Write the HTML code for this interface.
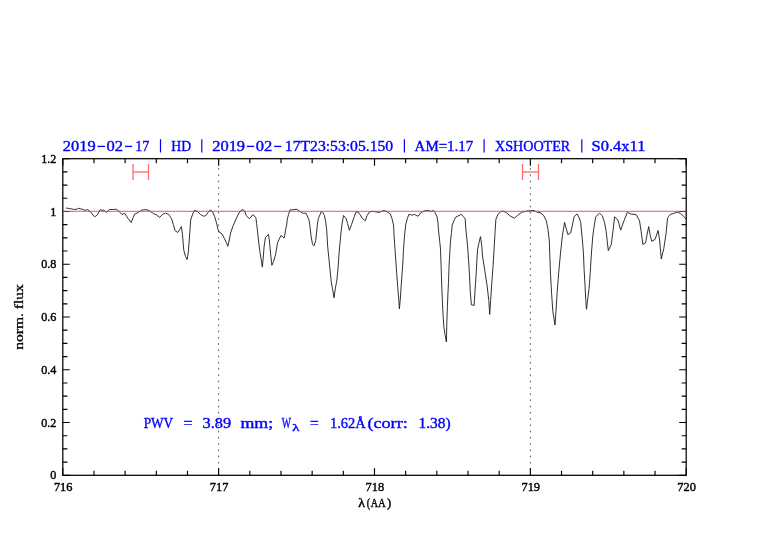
<!DOCTYPE html><html><head><meta charset="utf-8"><style>html,body{margin:0;padding:0;background:#fff;}svg{display:block;}</style></head><body>
<svg width="782" height="542" viewBox="0 0 782 542" style="will-change:transform">
<rect width="782" height="542" fill="#fff"/>
<line x1="218.65" y1="168.2" x2="218.65" y2="475" stroke="#555" stroke-width="1" stroke-dasharray="1.6 4.65"/>
<line x1="530.35" y1="168.2" x2="530.35" y2="475" stroke="#555" stroke-width="1" stroke-dasharray="1.6 4.65"/>
<path d="M66.1 208.0 L68.3 208.4 L70.9 208.8 L73.4 209.3 L76.0 209.5 L78.5 208.3 L81.1 209.0 L83.3 209.6 L85.3 210.4 L87.5 209.5 L90.1 211.5 L92.0 213.7 L94.2 216.5 L95.5 216.3 L97.1 215.2 L98.4 213.1 L100.0 209.9 L101.6 210.1 L104.1 210.4 L106.4 212.3 L109.5 209.5 L113.3 209.5 L116.5 209.3 L119.1 211.5 L121.9 214.4 L124.8 213.3 L128.0 218.5 L131.2 222.5 L133.1 217.6 L134.7 214.1 L137.0 213.1 L139.5 211.5 L141.4 210.2 L145.3 209.6 L148.5 210.2 L151.0 211.8 L153.6 213.7 L156.5 214.9 L159.7 217.4 L162.3 214.5 L165.5 213.2 L168.5 214.3 L171.6 218.8 L173.3 224.4 L175.0 230.5 L177.7 232.5 L179.4 229.9 L181.4 226.6 L182.5 234.9 L183.8 250.4 L185.5 256.5 L187.1 259.5 L188.3 252.6 L189.4 238.2 L190.7 220.0 L192.7 213.9 L194.3 210.5 L197.1 211.1 L200.4 214.4 L203.5 216.2 L205.7 215.8 L208.0 212.5 L209.8 210.3 L212.4 211.4 L214.6 216.5 L216.4 222.4 L217.9 229.1 L219.0 231.9 L222.0 233.9 L224.5 238.7 L226.3 242.5 L227.8 246.3 L229.3 240.0 L230.6 233.0 L232.7 226.9 L234.9 221.7 L237.5 215.8 L240.2 211.0 L243.0 209.5 L244.8 211.6 L246.3 215.7 L249.6 218.7 L252.9 214.6 L255.9 217.5 L256.6 223.5 L257.3 229.4 L258.1 236.7 L259.0 245.0 L260.2 253.5 L261.2 259.5 L262.4 267.1 L263.2 258.0 L264.1 246.7 L265.4 237.6 L268.4 234.4 L269.3 239.7 L270.6 253.6 L271.9 265.3 L273.6 261.4 L275.8 253.6 L277.5 242.8 L279.3 238.9 L281.0 235.4 L284.1 238.0 L284.9 234.1 L285.8 228.5 L286.7 225.0 L287.3 219.2 L288.5 214.5 L290.0 210.0 L292.8 209.7 L295.0 209.4 L297.3 209.4 L299.2 211.0 L301.7 212.6 L303.3 213.4 L305.9 213.1 L307.2 215.8 L309.1 220.3 L310.1 227.3 L311.0 235.7 L312.5 244.3 L314.1 245.9 L315.7 240.4 L316.5 233.0 L317.4 224.1 L318.4 218.3 L320.0 214.8 L321.4 211.2 L322.8 212.6 L324.4 215.5 L325.7 221.5 L326.7 229.9 L327.7 246.9 L328.9 258.3 L330.0 269.7 L331.2 281.2 L332.6 289.2 L334.0 297.8 L335.4 288.1 L336.9 280.0 L338.0 268.6 L338.8 257.2 L339.7 245.7 L340.5 238.5 L341.0 232.5 L342.1 223.6 L343.5 215.5 L346.1 218.5 L347.6 223.6 L349.4 230.3 L351.6 224.4 L353.9 217.7 L356.1 211.8 L358.3 212.2 L360.1 214.8 L362.3 218.5 L365.3 220.7 L367.1 215.5 L369.3 212.2 L371.9 211.3 L375.6 211.8 L379.3 212.4 L381.5 211.3 L384.1 210.5 L386.9 211.6 L390.2 213.9 L391.9 218.3 L393.5 224.9 L394.1 236.0 L395.0 249.3 L396.1 265.0 L396.6 272.4 L397.7 286.8 L398.8 300.1 L399.4 308.9 L400.3 299.0 L401.1 286.8 L402.2 272.4 L403.0 260.0 L403.5 249.3 L404.6 234.9 L405.7 224.9 L407.4 218.3 L409.0 214.1 L411.2 215.0 L412.1 215.2 L414.6 214.4 L418.0 216.3 L420.5 213.0 L422.7 211.7 L426.4 210.4 L428.6 210.5 L430.9 211.5 L433.4 210.4 L435.3 213.0 L437.1 217.0 L437.9 222.2 L438.6 231.0 L439.7 241.3 L440.5 249.1 L441.1 265.7 L441.6 282.3 L442.4 301.1 L443.1 315.5 L443.8 326.5 L445.0 334.3 L446.4 342.0 L446.6 334.3 L446.8 323.2 L447.4 306.6 L448.0 292.0 L448.5 282.3 L449.0 266.8 L449.9 251.3 L450.4 242.1 L451.5 232.5 L452.2 225.1 L454.4 219.7 L456.1 216.8 L459.1 215.5 L461.3 214.4 L463.5 216.6 L465.2 218.8 L465.7 227.1 L466.8 238.2 L468.0 251.5 L469.4 273.0 L470.2 291.0 L471.4 304.8 L474.1 305.4 L475.0 291.0 L476.2 273.0 L477.0 258.0 L477.6 249.3 L479.0 242.7 L480.5 236.6 L481.8 246.0 L482.5 256.0 L484.6 269.4 L487.0 285.0 L488.8 300.6 L489.7 314.4 L490.6 300.6 L491.8 282.6 L493.0 267.0 L494.0 250.0 L494.6 240.0 L495.1 231.4 L495.9 219.2 L498.1 214.2 L500.7 211.6 L503.2 211.1 L506.3 212.6 L510.3 216.2 L514.4 218.2 L517.9 215.2 L521.5 212.3 L526.5 211.1 L530.6 210.6 L534.1 210.6 L537.0 212.0 L540.2 212.7 L543.5 215.2 L546.3 220.7 L548.0 229.6 L549.4 241.8 L549.8 255.0 L550.5 274.2 L551.6 293.4 L552.8 311.1 L555.0 325.1 L556.0 311.1 L557.2 291.9 L558.7 272.7 L559.6 263.0 L560.5 253.0 L561.2 247.0 L562.3 236.2 L564.6 222.4 L566.2 228.5 L567.9 234.6 L570.7 232.9 L572.4 225.1 L574.1 216.8 L576.9 213.9 L579.1 217.4 L580.7 222.4 L581.8 234.0 L583.0 247.3 L583.5 255.0 L584.1 269.4 L585.0 284.9 L585.7 299.3 L586.5 309.3 L587.4 301.5 L589.1 288.2 L590.2 273.8 L590.8 263.0 L591.5 252.0 L592.9 235.1 L594.0 227.4 L595.7 216.8 L599.6 213.2 L602.3 215.7 L604.5 222.4 L606.2 231.5 L607.3 241.8 L608.3 250.6 L611.3 244.5 L613.0 230.7 L614.6 216.8 L618.0 220.2 L620.7 230.1 L624.0 220.7 L627.4 212.4 L631.2 214.1 L636.2 214.6 L639.5 220.7 L641.2 231.8 L642.9 244.5 L645.6 242.9 L646.9 235.3 L648.7 226.6 L650.1 234.7 L651.7 241.3 L655.0 239.5 L658.1 230.5 L659.6 240.0 L661.3 259.0 L663.8 248.5 L666.0 234.0 L667.5 218.5 L668.5 216.5 L670.6 214.1 L673.6 213.5 L677.2 212.1 L680.5 213.5 L683.5 216.2 L686.3 219.3" fill="none" stroke="#1a1a1a" stroke-width="0.9" stroke-linejoin="round"/>
<g stroke="#ff6a6a" stroke-width="1.3" fill="none"><line x1="133.0" y1="164" x2="133.0" y2="180"/><line x1="148.5" y1="164" x2="148.5" y2="180"/><line x1="133.0" y1="172" x2="148.5" y2="172"/></g>
<g stroke="#ff6a6a" stroke-width="1.3" fill="none"><line x1="522.5" y1="164" x2="522.5" y2="180"/><line x1="538.5" y1="164" x2="538.5" y2="180"/><line x1="522.5" y1="172" x2="538.5" y2="172"/></g>
<path d="M62.80 475.30V468.30M62.80 158.70V165.70M93.97 475.30V470.70M93.97 158.70V163.30M125.14 475.30V470.70M125.14 158.70V163.30M156.31 475.30V470.70M156.31 158.70V163.30M187.48 475.30V470.70M187.48 158.70V163.30M218.65 475.30V468.30M218.65 158.70V165.70M249.82 475.30V470.70M249.82 158.70V163.30M280.99 475.30V470.70M280.99 158.70V163.30M312.16 475.30V470.70M312.16 158.70V163.30M343.33 475.30V470.70M343.33 158.70V163.30M374.50 475.30V468.30M374.50 158.70V165.70M405.67 475.30V470.70M405.67 158.70V163.30M436.84 475.30V470.70M436.84 158.70V163.30M468.01 475.30V470.70M468.01 158.70V163.30M499.18 475.30V470.70M499.18 158.70V163.30M530.35 475.30V468.30M530.35 158.70V165.70M561.52 475.30V470.70M561.52 158.70V163.30M592.69 475.30V470.70M592.69 158.70V163.30M623.86 475.30V470.70M623.86 158.70V163.30M655.03 475.30V470.70M655.03 158.70V163.30M686.20 475.30V468.30M686.20 158.70V165.70M62.80 475.30H69.80M686.20 475.30H679.20M62.80 462.11H67.40M686.20 462.11H681.60M62.80 448.92H67.40M686.20 448.92H681.60M62.80 435.73H67.40M686.20 435.73H681.60M62.80 422.53H69.80M686.20 422.53H679.20M62.80 409.34H67.40M686.20 409.34H681.60M62.80 396.15H67.40M686.20 396.15H681.60M62.80 382.96H67.40M686.20 382.96H681.60M62.80 369.77H69.80M686.20 369.77H679.20M62.80 356.57H67.40M686.20 356.57H681.60M62.80 343.38H67.40M686.20 343.38H681.60M62.80 330.19H67.40M686.20 330.19H681.60M62.80 317.00H69.80M686.20 317.00H679.20M62.80 303.81H67.40M686.20 303.81H681.60M62.80 290.62H67.40M686.20 290.62H681.60M62.80 277.43H67.40M686.20 277.43H681.60M62.80 264.23H69.80M686.20 264.23H679.20M62.80 251.04H67.40M686.20 251.04H681.60M62.80 237.85H67.40M686.20 237.85H681.60M62.80 224.66H67.40M686.20 224.66H681.60M62.80 211.47H69.80M686.20 211.47H679.20M62.80 198.27H67.40M686.20 198.27H681.60M62.80 185.08H67.40M686.20 185.08H681.60M62.80 171.89H67.40M686.20 171.89H681.60M62.80 158.70H69.80M686.20 158.70H679.20" stroke="#000" stroke-width="1.15" fill="none"/>
<rect x="62.80" y="158.70" width="623.40" height="316.60" fill="none" stroke="#000" stroke-width="1.25"/>
<line x1="62.80" y1="211.47" x2="686.20" y2="211.47" stroke="#ff2a2a" stroke-width="1.2" stroke-opacity="0.66"/>
<text x="56.3" y="479.40" font-family="&quot;Liberation Serif&quot;, serif" font-size="12.1" stroke="#000" stroke-width="0.4" text-anchor="end">0</text>
<text x="56.3" y="426.63" font-family="&quot;Liberation Serif&quot;, serif" font-size="12.1" stroke="#000" stroke-width="0.4" text-anchor="end">0.2</text>
<text x="56.3" y="373.87" font-family="&quot;Liberation Serif&quot;, serif" font-size="12.1" stroke="#000" stroke-width="0.4" text-anchor="end">0.4</text>
<text x="56.3" y="321.10" font-family="&quot;Liberation Serif&quot;, serif" font-size="12.1" stroke="#000" stroke-width="0.4" text-anchor="end">0.6</text>
<text x="56.3" y="268.33" font-family="&quot;Liberation Serif&quot;, serif" font-size="12.1" stroke="#000" stroke-width="0.4" text-anchor="end">0.8</text>
<text x="56.3" y="215.57" font-family="&quot;Liberation Serif&quot;, serif" font-size="12.1" stroke="#000" stroke-width="0.4" text-anchor="end">1</text>
<text x="56.3" y="162.80" font-family="&quot;Liberation Serif&quot;, serif" font-size="12.1" stroke="#000" stroke-width="0.4" text-anchor="end">1.2</text>
<text x="53.90" y="490.5" font-family="&quot;Liberation Serif&quot;, serif" font-size="12.1" stroke="#000" stroke-width="0.4" textLength="18.6" lengthAdjust="spacingAndGlyphs">716</text>
<text x="209.75" y="490.5" font-family="&quot;Liberation Serif&quot;, serif" font-size="12.1" stroke="#000" stroke-width="0.4" textLength="18.6" lengthAdjust="spacingAndGlyphs">717</text>
<text x="365.60" y="490.5" font-family="&quot;Liberation Serif&quot;, serif" font-size="12.1" stroke="#000" stroke-width="0.4" textLength="18.6" lengthAdjust="spacingAndGlyphs">718</text>
<text x="521.45" y="490.5" font-family="&quot;Liberation Serif&quot;, serif" font-size="12.1" stroke="#000" stroke-width="0.4" textLength="18.6" lengthAdjust="spacingAndGlyphs">719</text>
<text x="677.30" y="490.5" font-family="&quot;Liberation Serif&quot;, serif" font-size="12.1" stroke="#000" stroke-width="0.4" textLength="18.6" lengthAdjust="spacingAndGlyphs">720</text>
<text x="358.3" y="507" font-family="&quot;Liberation Serif&quot;, serif" font-size="12" stroke="#000" stroke-width="0.4" textLength="6.7" lengthAdjust="spacingAndGlyphs">&#955;</text>
<text x="366.7" y="507" font-family="&quot;Liberation Serif&quot;, serif" font-size="12" stroke="#000" stroke-width="0.4" textLength="3.4" lengthAdjust="spacingAndGlyphs">(</text>
<text x="370.8" y="507" font-family="&quot;Liberation Serif&quot;, serif" font-size="12" stroke="#000" stroke-width="0.4" textLength="14.7" lengthAdjust="spacingAndGlyphs">AA</text>
<text x="387.0" y="507" font-family="&quot;Liberation Serif&quot;, serif" font-size="12" stroke="#000" stroke-width="0.4" textLength="4.2" lengthAdjust="spacingAndGlyphs">)</text>
<text transform="translate(23 349.8) rotate(-90)" font-family="&quot;Liberation Serif&quot;, serif" font-size="12" stroke="#000" stroke-width="0.3" textLength="65.6" lengthAdjust="spacingAndGlyphs">norm. flux</text>
<text x="62.8" y="150.7" font-family="&quot;Liberation Serif&quot;, serif" font-size="13.7" fill="#0000ff" stroke="#0000ff" stroke-width="0.35" textLength="32.8" lengthAdjust="spacingAndGlyphs">2019</text>
<line x1="97.5" y1="146.4" x2="104.9" y2="146.4" stroke="#0000ff" stroke-width="1.3"/>
<text x="106.6" y="150.7" font-family="&quot;Liberation Serif&quot;, serif" font-size="13.7" fill="#0000ff" stroke="#0000ff" stroke-width="0.35" textLength="16.5" lengthAdjust="spacingAndGlyphs">02</text>
<line x1="125.1" y1="146.4" x2="132.2" y2="146.4" stroke="#0000ff" stroke-width="1.3"/>
<text x="135.2" y="150.7" font-family="&quot;Liberation Serif&quot;, serif" font-size="13.7" fill="#0000ff" stroke="#0000ff" stroke-width="0.35" textLength="14.1" lengthAdjust="spacingAndGlyphs">17</text>
<line x1="160.5" y1="139.2" x2="160.5" y2="152.4" stroke="#0000ff" stroke-width="1.2"/>
<text x="171.3" y="150.7" font-family="&quot;Liberation Serif&quot;, serif" font-size="13.7" fill="#0000ff" stroke="#0000ff" stroke-width="0.35" textLength="19.8" lengthAdjust="spacingAndGlyphs">HD</text>
<line x1="201.8" y1="139.2" x2="201.8" y2="152.4" stroke="#0000ff" stroke-width="1.2"/>
<text x="212.2" y="150.7" font-family="&quot;Liberation Serif&quot;, serif" font-size="13.7" fill="#0000ff" stroke="#0000ff" stroke-width="0.35" textLength="32.9" lengthAdjust="spacingAndGlyphs">2019</text>
<line x1="246.8" y1="146.4" x2="254.2" y2="146.4" stroke="#0000ff" stroke-width="1.3"/>
<text x="255.8" y="150.7" font-family="&quot;Liberation Serif&quot;, serif" font-size="13.7" fill="#0000ff" stroke="#0000ff" stroke-width="0.35" textLength="16.5" lengthAdjust="spacingAndGlyphs">02</text>
<line x1="274.1" y1="146.4" x2="281.4" y2="146.4" stroke="#0000ff" stroke-width="1.3"/>
<text x="284.8" y="150.7" font-family="&quot;Liberation Serif&quot;, serif" font-size="13.7" fill="#0000ff" stroke="#0000ff" stroke-width="0.35" textLength="108.4" lengthAdjust="spacingAndGlyphs">17T23:53:05.150</text>
<line x1="404.4" y1="139.2" x2="404.4" y2="152.4" stroke="#0000ff" stroke-width="1.2"/>
<text x="414.6" y="150.7" font-family="&quot;Liberation Serif&quot;, serif" font-size="13.7" fill="#0000ff" stroke="#0000ff" stroke-width="0.35" textLength="58.7" lengthAdjust="spacingAndGlyphs">AM=1.17</text>
<line x1="484.1" y1="139.2" x2="484.1" y2="152.4" stroke="#0000ff" stroke-width="1.2"/>
<text x="495.0" y="150.7" font-family="&quot;Liberation Serif&quot;, serif" font-size="13.7" fill="#0000ff" stroke="#0000ff" stroke-width="0.35" textLength="75.2" lengthAdjust="spacingAndGlyphs">XSHOOTER</text>
<line x1="581.8" y1="139.2" x2="581.8" y2="152.4" stroke="#0000ff" stroke-width="1.2"/>
<text x="591.6" y="150.7" font-family="&quot;Liberation Serif&quot;, serif" font-size="13.7" fill="#0000ff" stroke="#0000ff" stroke-width="0.35" textLength="53.8" lengthAdjust="spacingAndGlyphs">S0.4x11</text>
<text x="143.7" y="428.2" font-family="&quot;Liberation Serif&quot;, serif" font-size="15.5" fill="#0000ff" stroke="#0000ff" stroke-width="0.4" textLength="29.5" lengthAdjust="spacingAndGlyphs">PWV</text>
<text x="183.6" y="428.2" font-family="&quot;Liberation Serif&quot;, serif" font-size="15.5" fill="#0000ff" stroke="#0000ff" stroke-width="0.4" textLength="9.0" lengthAdjust="spacingAndGlyphs">=</text>
<text x="202.5" y="428.2" font-family="&quot;Liberation Serif&quot;, serif" font-size="15.5" fill="#0000ff" stroke="#0000ff" stroke-width="0.4" textLength="28.6" lengthAdjust="spacingAndGlyphs">3.89</text>
<text x="240.5" y="428.2" font-family="&quot;Liberation Serif&quot;, serif" font-size="15.5" fill="#0000ff" stroke="#0000ff" stroke-width="0.4" textLength="32.7" lengthAdjust="spacingAndGlyphs">mm;</text>
<text x="281.7" y="428.2" font-family="&quot;Liberation Serif&quot;, serif" font-size="15.5" fill="#0000ff" stroke="#0000ff" stroke-width="0.4" textLength="9.2" lengthAdjust="spacingAndGlyphs">W</text>
<text x="309.9" y="428.2" font-family="&quot;Liberation Serif&quot;, serif" font-size="15.5" fill="#0000ff" stroke="#0000ff" stroke-width="0.4" textLength="8.8" lengthAdjust="spacingAndGlyphs">=</text>
<text x="330.0" y="428.2" font-family="&quot;Liberation Serif&quot;, serif" font-size="15.5" fill="#0000ff" stroke="#0000ff" stroke-width="0.4" textLength="35.7" lengthAdjust="spacingAndGlyphs">1.62&#197;</text>
<text x="367.4" y="428.2" font-family="&quot;Liberation Serif&quot;, serif" font-size="15.5" fill="#0000ff" stroke="#0000ff" stroke-width="0.4" textLength="40.4" lengthAdjust="spacingAndGlyphs">(corr:</text>
<text x="418.5" y="428.2" font-family="&quot;Liberation Serif&quot;, serif" font-size="15.5" fill="#0000ff" stroke="#0000ff" stroke-width="0.4" textLength="32.2" lengthAdjust="spacingAndGlyphs">1.38)</text>
<text x="292.2" y="431.3" font-family="&quot;Liberation Serif&quot;, serif" font-size="11" fill="#0000ff" stroke="#0000ff" stroke-width="0.4" textLength="7.2" lengthAdjust="spacingAndGlyphs">&#955;</text>
</svg></body></html>
